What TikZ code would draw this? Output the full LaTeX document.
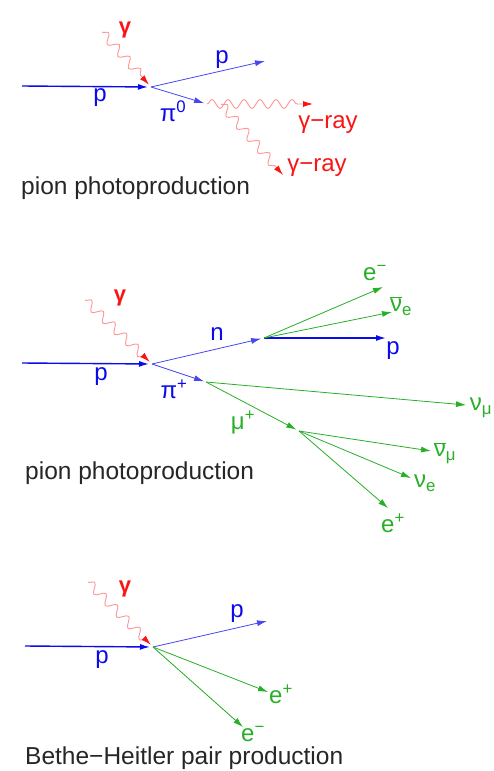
\documentclass[tikz,border=0pt]{standalone}
\usepackage{fontspec}
\setmainfont{Liberation Sans}
\usetikzlibrary{arrows.meta,decorations.pathmorphing}
\definecolor{pblue}{RGB}{10,10,235}
\definecolor{lgreen}{RGB}{40,175,40}
\definecolor{gred}{RGB}{250,20,20}

\begin{document}
\begin{tikzpicture}[x=1pt, y=-1pt,
  tip/.style={-{Latex[length=10pt,width=6pt]}},
  proton/.style={tip, draw=pblue, line width=1.4pt},
  hadron/.style={tip, draw=pblue!75, line width=0.8pt},
  lepton/.style={tip, draw=lgreen, line width=0.8pt},
  photon/.style={-{Latex[length=10pt,width=6pt,color=gred]}, draw=gred!45, line width=0.9pt,
                 decorate, decoration={snake, amplitude=4.5pt, segment length=16pt, post length=9pt}},
  lbl/.style={font=\fontsize{24}{26}\selectfont, inner sep=0pt},
  blbl/.style={lbl, text=pblue},
  glbl/.style={lbl, text=lgreen},
  rlbl/.style={lbl, text=gred},
  gamlbl/.style={rlbl, font=\fontsize{22}{24}\selectfont\bfseries},
  caption/.style={font=\fontsize{24.5}{28}\selectfont, text=black!85, anchor=base west, inner sep=0pt}]
  \useasboundingbox (0,0) rectangle (493,771);

  % pion photoproduction, neutral pion
  \coordinate (pin1) at (22,86);
  \coordinate (v1) at (151,87);
  \coordinate (gin1) at (102,32);
  \coordinate (pout1) at (265,61);
  \coordinate (pidec1) at (207,104);
  \coordinate (ray1) at (313,104);
  \coordinate (ray2) at (283,175);
  \draw[proton, shorten >=3pt] (pin1) -- (v1);
  \draw[photon, shorten >=3pt] (gin1) -- (v1);
  \draw[hadron] (v1) -- (pout1);
  \draw[hadron, shorten >=3pt] (v1) -- (pidec1);
  \draw[photon] (pidec1) -- (ray1);
  \draw[photon] ([xshift=14pt]pidec1) -- (ray2);
  \node[blbl] (p1in) at (100,98) {p};
  \node[gamlbl] (gam1) at (125,30) {γ};
  \node[blbl] (p1out) at (222,60) {p};
  \node[blbl] (pizero) at (173,111) {π\textsuperscript{0}};
  \node[rlbl] (ray1lbl) at (328,125) {γ−ray};
  \node[rlbl] (ray2lbl) at (317,168) {γ−ray};
  \node[caption] (cap1) at (21,194) {pion photoproduction};

  % pion photoproduction, charged pion
  \coordinate (pin2) at (22,363);
  \coordinate (v2) at (152,364);
  \coordinate (gin2) at (85,300);
  \coordinate (nv) at (264,338);
  \coordinate (pout2) at (386,338);
  \coordinate (em2) at (383,287);
  \coordinate (nue2) at (392,312);
  \coordinate (piv) at (206,382);
  \coordinate (numu2) at (466,405);
  \coordinate (muv) at (299,431);
  \coordinate (numub2) at (431,451);
  \coordinate (nuev2) at (411,478);
  \coordinate (ep2) at (388,508);
  \draw[proton, shorten >=3pt] (pin2) -- (v2);
  \draw[photon, shorten >=3pt] (gin2) -- (v2);
  \draw[hadron, shorten >=3pt] (v2) -- (nv);
  \draw[proton] (nv) -- (pout2);
  \draw[lepton] (nv) -- (em2);
  \draw[lepton] (nv) -- (nue2);
  \draw[hadron, shorten >=2pt] (v2) -- (piv);
  \draw[lepton] (piv) -- (numu2);
  \draw[lepton, shorten >=3pt] (piv) -- (muv);
  \draw[lepton] (muv) -- (numub2);
  \draw[lepton] (muv) -- (nuev2);
  \draw[lepton] (muv) -- (ep2);
  \node[gamlbl] (gam2) at (120,298) {γ};
  \node[blbl] (p2in) at (101,377) {p};
  \node[blbl] (nlbl) at (217,334) {n};
  \node[blbl] (p2out) at (393,351) {p};
  \node[glbl] (em2lbl) at (375,273) {e\textsuperscript{−}};
  \node[glbl] (nue2lbl) at (401,306) {$\overline{\mbox{ν}}$\textsubscript{e}};
  \node[blbl] (piplus) at (174,389) {π\textsuperscript{+}};
  \node[glbl] (numu2lbl) at (481,408) {ν\textsubscript{μ}};
  \node[glbl] (muplus) at (243,422) {μ\textsuperscript{+}};
  \node[glbl] (numub2lbl) at (445,453) {$\overline{\mbox{ν}}$\textsubscript{μ}};
  \node[glbl] (nuev2lbl) at (425,483) {ν\textsubscript{e}};
  \node[glbl] (ep2lbl) at (393,523) {e\textsuperscript{+}};
  \node[caption] (cap2) at (25,479) {pion photoproduction};

  % Bethe-Heitler pair production
  \coordinate (pin3) at (25,646);
  \coordinate (v3) at (153,647);
  \coordinate (gin3) at (88,582);
  \coordinate (pout3) at (267,621);
  \coordinate (ep3) at (268,692);
  \coordinate (em3) at (243,727);
  \draw[proton, shorten >=3pt] (pin3) -- (v3);
  \draw[photon, shorten >=3pt] (gin3) -- (v3);
  \draw[hadron] (v3) -- (pout3);
  \draw[lepton] (v3) -- (ep3);
  \draw[lepton] (v3) -- (em3);
  \node[gamlbl] (gam3) at (125,589) {γ};
  \node[blbl] (p3in) at (102,660) {p};
  \node[blbl] (p3out) at (237,614) {p};
  \node[glbl] (ep3lbl) at (281,694) {e\textsuperscript{+}};
  \node[glbl] (em3lbl) at (253,734) {e\textsuperscript{−}};
  \node[caption] (cap3) at (25,764) {Bethe−Heitler pair production};
\end{tikzpicture}
\end{document}
